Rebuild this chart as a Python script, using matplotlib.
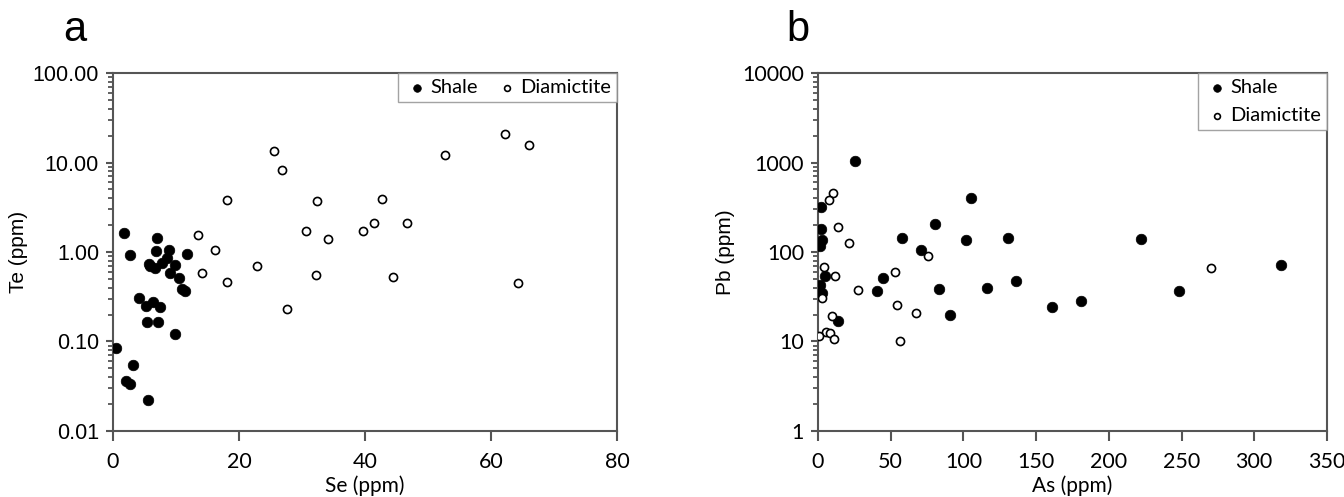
#!/usr/bin/env python
# Te vs Se and Pb vs As, shale and diamictite samples (log y)
import numpy as np
import matplotlib.pyplot as plt

# panel a: Se (ppm) vs Te (ppm)
shale_se = [1.8, 2.75, 6.98, 6.77, 8.94, 8.52, 7.73, 5.71, 5.87, 6.67,
            9.79, 11.75, 9.0, 10.5, 10.9, 11.43, 4.07, 5.29, 6.35, 7.51,
            5.45, 7.2, 9.9, 0.42, 3.17, 2.01, 2.75, 5.61]
shale_te = [1.65, 0.93, 1.44, 1.02, 1.06, 0.86, 0.76, 0.74, 0.695, 0.667,
            0.708, 0.955, 0.58, 0.51, 0.389, 0.366, 0.306, 0.249, 0.276, 0.245,
            0.167, 0.167, 0.12, 0.084, 0.055, 0.0358, 0.0331, 0.022]
diam_se = [13.47, 16.22, 14.13, 18.05, 18.12, 22.83, 25.57, 26.88, 27.6, 30.67,
           32.44, 32.18, 34.14, 39.76, 41.4, 42.7, 44.47, 46.7, 52.65, 62.2,
           64.36, 66.06]
diam_te = [1.55, 1.06, 0.576, 3.82, 0.461, 0.69, 13.4, 8.23, 0.233, 1.72,
           3.69, 0.552, 1.41, 1.72, 2.11, 3.88, 0.525, 2.13, 12.2, 20.6,
           0.446, 15.8]

# panel b: As (ppm) vs Pb (ppm)
shale_as = [25.4, 105.4, 2.4, 1.8, 3.0, 1.5, 80.5, 57.8, 102.1, 130.5,
            221.9, 70.7, 4.5, 44.9, 1.2, 2.7, 40.7, 83.5, 116.5, 135.9,
            318.3, 248.2, 181.1, 161.1, 91.0, 13.5]
shale_pb = [1033, 406, 319, 181, 136, 116, 204, 144, 135, 143,
            139, 106, 53.5, 51.2, 42.7, 35, 36.6, 38.5, 39.5, 47.8,
            72.3, 36.6, 28.2, 24.4, 19.8, 17.0]
diam_as = [10.5, 7.5, 13.8, 21.6, 75.4, 4.2, 11.4, 53.3, 27.8, 270,
           3.0, 54.2, 67.4, 9.9, 5.4, 8.4, 0.6, 11.1, 56.6]
diam_pb = [455, 379, 189, 127, 89.8, 68.1, 53.5, 59.8, 37.2, 66.4,
           30.3, 25.7, 20.9, 19.3, 12.8, 12.3, 11.5, 10.7, 10.1]

a_xticks = [0, 20, 40, 60, 80]
a_yticks = [0.01, 0.1, 1, 10, 100]
a_ylabels = ['0.01', '0.10', '1.00', '10.00', '100.00']
b_xticks = [0, 50, 100, 150, 200, 250, 300, 350]
b_yticks = [1, 10, 100, 1000, 10000]
b_ylabels = ['1', '10', '100', '1000', '10000']

spine_col = '#555555'
arial = 'Liberation Sans'
calib = 'Lato'

fig = plt.figure(figsize=(13.44, 4.97), dpi=100)
ax_a = fig.add_axes([0.084, 0.133, 0.375, 0.720])
ax_b = fig.add_axes([0.6086, 0.133, 0.3787, 0.720])


def minor_log(yt):
    # 2..9 times each decade of the axis
    out = []
    for v in yt[:-1]:
        out += [m * v for m in range(2, 10)]
    return out


def style_axes(ax, xt, yt, ylabs, yfam):
    ax.set_yscale('log')
    ax.set_xlim(xt[0], xt[-1])
    ax.set_ylim(yt[0], yt[-1])
    ax.set_xticks(xt)
    ax.set_yticks(yt)
    ax.set_yticks([], minor=True)
    # y ticks drawn as short outward lines, label spacing kept by tick length
    ax.tick_params(axis='y', which='major', length=7, width=0, color=spine_col,
                   labelsize=15.5, pad=3)
    ax.tick_params(axis='x', which='major', length=7, width=1.5, color=spine_col,
                   labelsize=15.5, pad=8)
    tl = 7.0 / (ax.get_position().width * fig.get_figwidth() * fig.dpi)
    ytr = ax.get_yaxis_transform()
    ax.hlines(yt, -tl, 0, transform=ytr, colors=spine_col, linewidth=1.5,
              clip_on=False, zorder=4)
    ax.hlines(minor_log(yt), -tl * 0.75, 0, transform=ytr, colors=spine_col,
              linewidth=1.3, clip_on=False, zorder=4)
    ax.set_yticklabels(ylabs, fontfamily=yfam)
    for lab in ax.get_xticklabels():
        lab.set_fontfamily(calib)
    for s in ax.spines.values():
        s.set_color(spine_col)
        s.set_linewidth(1.5)


def scatter_pair(ax, x1, y1, x2, y2):
    ax.scatter(x1, y1, s=58, c='black', edgecolors='black', linewidths=0.5,
               label='Shale', zorder=3)
    ax.scatter(x2, y2, s=34, facecolors='white', edgecolors='black',
               linewidths=1.2, label='Diamictite', zorder=3)


def legend(ax, ncol, lspace):
    leg = ax.legend(ncol=ncol, loc='upper right', bbox_to_anchor=(1.0, 1.0),
                    prop={'family': calib, 'size': 14.5}, frameon=True,
                    fancybox=False, borderaxespad=0, handletextpad=0.0,
                    columnspacing=0.8, handlelength=1.3, borderpad=0.3,
                    labelspacing=lspace, markerscale=0.72)
    leg.get_frame().set_edgecolor('#8c8c8c')
    leg.get_frame().set_linewidth(1.0)
    return leg


# panel a
style_axes(ax_a, a_xticks, a_yticks, a_ylabels, arial)
scatter_pair(ax_a, shale_se, shale_te, diam_se, diam_te)
ax_a.set_xlabel('Se (ppm)', fontsize=15, fontfamily=calib, labelpad=3)
ax_a.set_ylabel('Te (ppm)', fontsize=15, fontfamily=arial, labelpad=3)
legend(ax_a, 2, 0.3)
ax_a.text(-0.075, 1.065, 'a', transform=ax_a.transAxes, fontsize=30,
          fontfamily=arial, ha='center', va='bottom')

# panel b
style_axes(ax_b, b_xticks, b_yticks, b_ylabels, calib)
scatter_pair(ax_b, shale_as, shale_pb, diam_as, diam_pb)
ax_b.set_xlabel('As (ppm)', fontsize=15, fontfamily=calib, labelpad=3)
ax_b.set_ylabel('Pb (ppm)', fontsize=15, fontfamily=arial, labelpad=5)
legend(ax_b, 1, 0.55)
ax_b.text(-0.04, 1.065, 'b', transform=ax_b.transAxes, fontsize=30,
          fontfamily=arial, ha='center', va='bottom')

fig.savefig('out.png', dpi=100)
